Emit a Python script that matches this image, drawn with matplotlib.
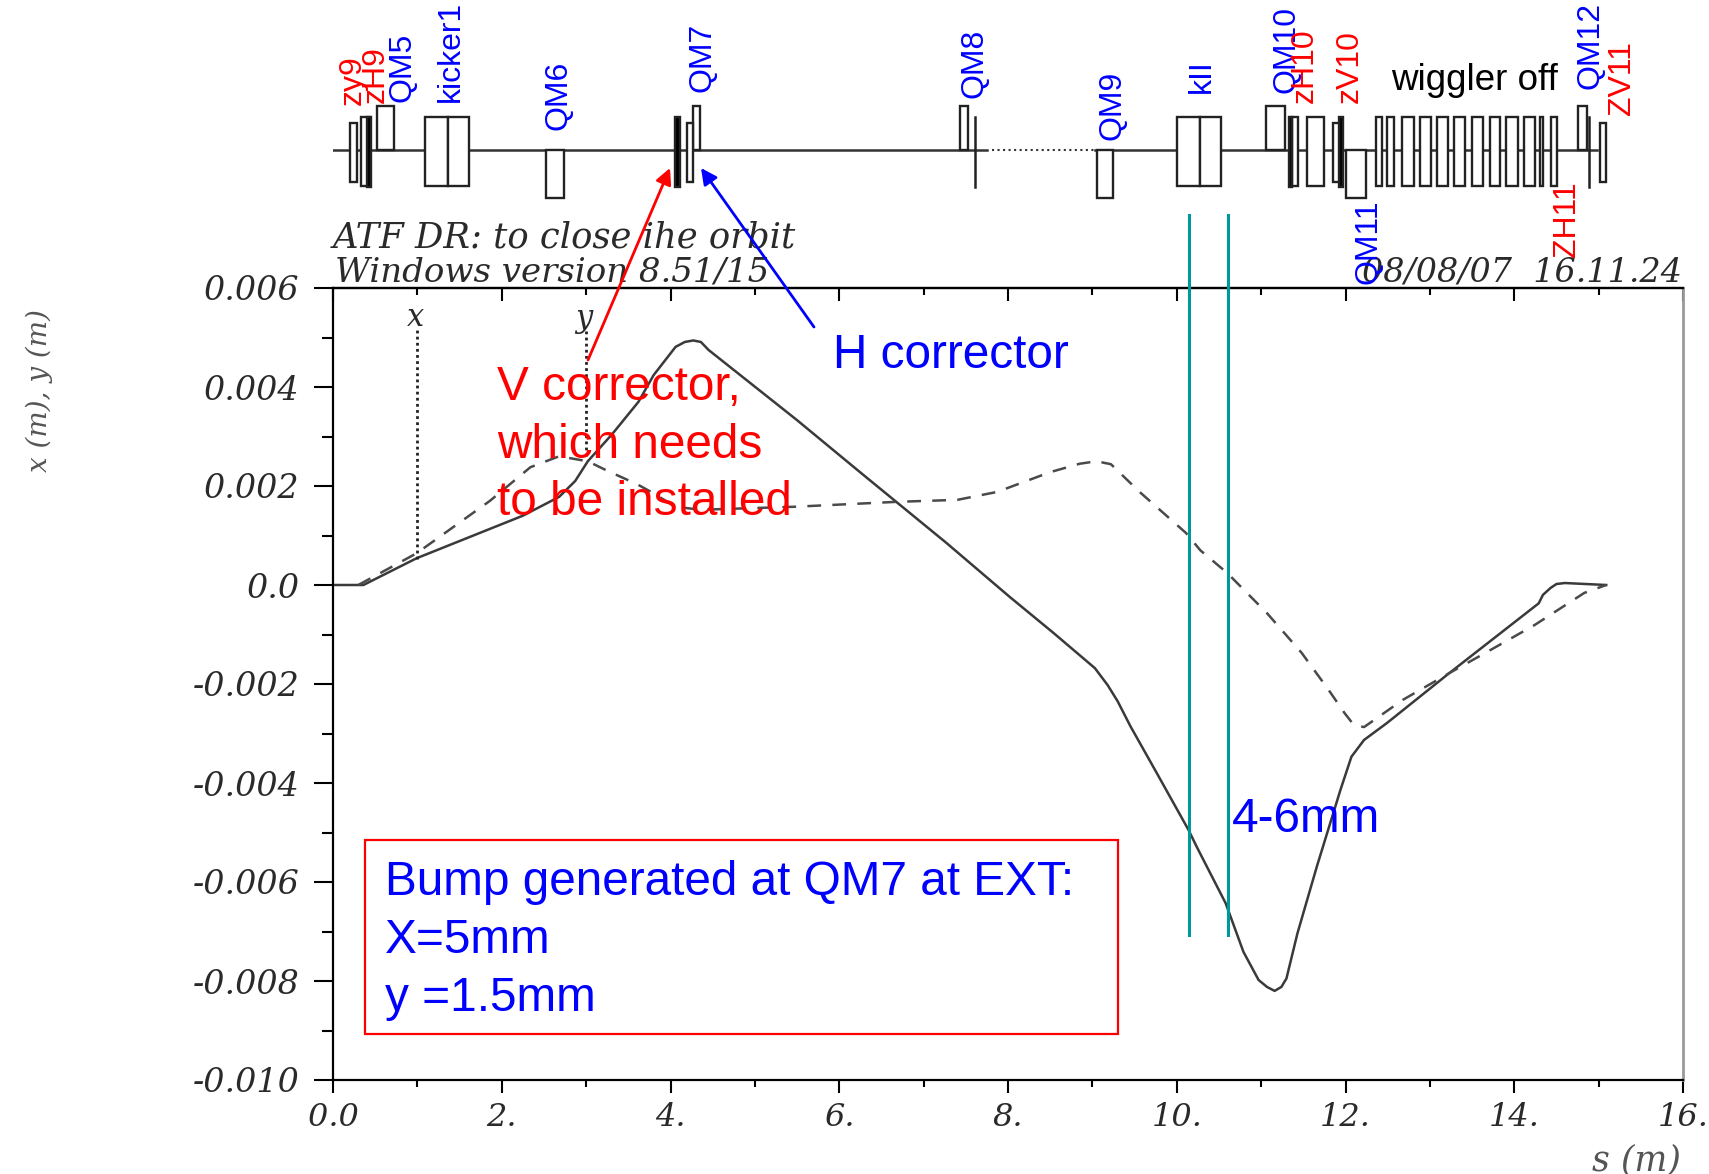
import matplotlib
matplotlib.use('Agg')
import matplotlib.pyplot as plt
from matplotlib.patches import Rectangle

# orbit
s_x = [0.0, 0.36, 0.99, 2.25, 2.68, 2.87, 3.02, 3.31, 3.62, 3.80, 4.06, 4.17, 4.27, 4.36, 4.45, 5.50, 6.26, 7.27, 8.02,
       8.54, 9.03, 9.18, 9.30, 9.45, 9.78, 10.14, 10.24, 10.58, 10.79, 10.97, 11.07, 11.16, 11.24, 11.30, 11.43, 11.66,
       11.94, 12.07, 12.22, 12.49, 13.23, 14.29, 14.34, 14.43, 14.50, 14.60, 15.09]
x_orbit = [0.0, 0.0, 0.00054, 0.0014, 0.00178, 0.0021, 0.0025, 0.00305, 0.0037, 0.00424, 0.00481, 0.00491, 0.00494,
           0.00491, 0.00475, 0.00333, 0.00226, 0.00085, -0.00024, -0.00097, -0.00168, -0.00202, -0.00235, -0.00285,
           -0.00385, -0.00495, -0.0053, -0.00643, -0.00741, -0.00798, -0.00812, -0.0082, -0.00812, -0.00795, -0.00704,
           -0.00569, -0.00414, -0.00347, -0.00313, -0.00279, -0.00178, -0.00037, -0.0002, -0.00006, 0.00002, 0.00004,
           0.0]

s_y = [0.30, 0.99, 1.86, 2.34, 2.68, 3.02, 3.26, 3.60, 3.77, 4.06, 4.36, 5.46, 6.68, 7.40, 7.87, 8.50, 8.85, 9.05, 9.22,
       9.56, 10.11, 10.28, 10.60, 11.07, 11.48, 11.80, 11.99, 12.10, 12.22, 12.68, 13.23, 13.68, 14.24, 14.83, 15.09]
y_orbit = [0.0, 0.00064, 0.0017, 0.00238, 0.0026, 0.0025, 0.0023, 0.00204, 0.00188, 0.00158, 0.00152, 0.00158,
           0.00168, 0.00172, 0.00188, 0.00228, 0.00245, 0.0025, 0.00244, 0.00188, 0.00105, 0.0007, 0.00024, -0.00057,
           -0.00137, -0.00212, -0.00259, -0.00283, -0.00287, -0.00232, -0.00178, -0.00135, -0.00081, -0.00016, 0.0]

y_ticks = [0.006, 0.004, 0.002, 0.0, -0.002, -0.004, -0.006, -0.008, -0.010]
y_tick_labels = ['0.006', '0.004', '0.002', '0.0', '-0.002', '-0.004', '-0.006', '-0.008', '-0.010']
x_ticks = [0, 2, 4, 6, 8, 10, 12, 14, 16]
x_tick_labels = ['0.0', '2.', '4.', '6.', '8.', '10.', '12.', '14.', '16.']
x_minor = [1, 3, 5, 7, 9, 11, 13, 15]
y_minor = [0.005, 0.003, 0.001, -0.001, -0.003, -0.005, -0.007, -0.009]

# lattice elements as (start s, end s)
quad_up = [(0.52, 0.72), (4.27, 4.35), (7.43, 7.52), (11.06, 11.28), (14.75, 14.86)]
quad_down = [(2.52, 2.74), (9.05, 9.25), (12.01, 12.24)]
kickers = [(1.09, 1.36), (1.36, 1.61), (10.00, 10.27), (10.27, 10.53)]
bends = [(0.33, 0.44), (11.37, 11.44), (11.54, 11.75), (12.36, 12.43), (12.49, 12.58), (12.67, 12.81), (12.88, 13.01),
         (13.08, 13.21), (13.29, 13.42), (13.50, 13.63), (13.71, 13.83), (13.90, 14.04), (14.11, 14.24),
         (14.31, 14.34), (14.44, 14.51)]
small = [(0.20, 0.28), (4.19, 4.27), (11.85, 11.94), (15.02, 15.09)]
thick = [(0.40, 0.45), (4.05, 4.11), (11.33, 11.37), (11.92, 11.97)]
thin = [7.61, 14.88]

fig = plt.figure(figsize=(17.09, 11.74), dpi=100)
W, H = 1709, 1174


def axes_px(left, top, right, bottom):
    return [left / W, 1 - bottom / H, (right - left) / W, (bottom - top) / H]


serif = {'family': 'DejaVu Serif', 'style': 'italic', 'color': '#2a2a2a'}

# main plot
ax = fig.add_axes(axes_px(333, 288, 1683, 1080))
ax.plot(s_x, x_orbit, color='#3a3a3a', lw=1.8)
ax.plot(s_y, y_orbit, color='#4a4a4a', lw=1.8, dashes=(5.5, 4.5))
ax.plot([1, 1], [0.00052, 0.0052], color='#222222', lw=2, dashes=(1, 1.2))
ax.plot([3, 3], [0.0026, 0.0052], color='#222222', lw=2, dashes=(1, 1.2))
ax.set_xlim(0, 16)
ax.set_ylim(-0.010, 0.006)
ax.set_xticks(x_ticks)
ax.set_xticklabels(x_tick_labels, fontsize=23, **serif)
ax.set_yticks(y_ticks)
ax.set_yticklabels(y_tick_labels, fontsize=24, **serif)
ax.set_xticks(x_minor, minor=True)
ax.set_yticks(y_minor, minor=True)
ax.tick_params(axis='x', which='major', direction='out', length=9.5, width=1.5, pad=6)
ax.tick_params(axis='x', which='minor', direction='out', length=5, width=1.5)
ax.tick_params(axis='y', which='major', direction='out', length=14, width=1.5, pad=10)
ax.tick_params(axis='y', which='minor', direction='out', length=8, width=1.5)
for side in ['left', 'top', 'bottom']:
    ax.spines[side].set_linewidth(1.6)
ax.spines['right'].set_linewidth(2)
ax.spines['right'].set_color('#999999')

# top edge has inward ticks only
sec = ax.secondary_xaxis('top')
sec.set_xticks(x_ticks)
sec.set_xticklabels([])
sec.set_xticks(x_minor, minor=True)
sec.tick_params(axis='x', which='major', direction='in', length=9.5, width=1.5)
sec.tick_params(axis='x', which='minor', direction='in', length=5, width=1.5)
sec.spines['top'].set_linewidth(1.6)

# lattice strip, same s scale as the plot
lat = fig.add_axes(axes_px(333, 100, 1683, 205))
lat.set_xlim(0, 16)
lat.set_ylim(-55, 50)
lat.axis('off')
lat.plot([0, 7.75], [0, 0], color='#333333', lw=1.8)
lat.plot([7.81, 9.03], [0, 0], color='#333333', lw=1.5, ls=':')
lat.plot([9.03, 14.98], [0, 0], color='#333333', lw=1.8)


def boxes(items, low, high, fill='white'):
    for a, b in items:
        lat.add_patch(Rectangle((a, low), b - a, high - low, fc=fill, ec='#222222', lw=1.7, zorder=3))


boxes(quad_up, 0, 44)
boxes(quad_down, -48, 0)
boxes(kickers, -36, 33)
boxes(bends, -36, 33)
boxes(small, -32, 27)
boxes(thick, -37, 33, fill='black')
for t in thin:
    lat.plot([t, t], [-37, 33], color='#222222', lw=1.8, zorder=3)

# annotations sit on a full figure layer in pixel positions
top = fig.add_axes([0, 0, 1, 1])
top.set_xlim(0, W)
top.set_ylim(H, 0)
top.axis('off')
top.patch.set_alpha(0)

top.text(333, 247, 'ATF DR: to close ihe orbit', fontsize=25.5, va='baseline', **serif)
top.text(335, 281, 'Windows version 8.51/15', fontsize=24.5, va='baseline', **serif)
top.text(1362, 281, '08/08/07  16.11.24', fontsize=24, va='baseline', **serif)
top.text(416, 318, 'x', fontsize=22, ha='center', va='center', **serif)
top.text(584, 318, 'y', fontsize=22, ha='center', va='center', **serif)
top.text(39, 390, 'x (m), y (m)', fontsize=20, rotation=90, ha='center', va='center', family='DejaVu Serif',
         style='italic', color='#555555')
top.text(1681, 1160, 's (m)', fontsize=25, ha='right', va='center', family='DejaVu Serif', style='italic',
         color='#555555')

sans = 'Liberation Sans'
blue_labels = [('QM5', 403, 102), ('kicker1', 451, 102), ('QM6', 559, 130), ('QM7', 703, 92), ('QM8', 975, 98),
               ('QM9', 1112, 140), ('kII', 1202, 93), ('QM10', 1286, 93), ('QM12', 1590, 89), ('QM11', 1369, 284)]
red_labels = [('zy9', 353, 105), ('zH9', 376, 103), ('zH10', 1305, 103), ('zV10', 1350, 103), ('ZV11', 1622, 115),
              ('ZH11', 1567, 257)]
for name, px, py in blue_labels:
    top.text(px, py, name, color='#0000ff', family=sans, fontsize=23, rotation=90, ha='center', va='bottom')
for name, px, py in red_labels:
    top.text(px, py, name, color='#ff0000', family=sans, fontsize=23, rotation=90, ha='center', va='bottom')
top.text(1391, 90, 'wiggler off', color='black', family=sans, fontsize=26.5, va='baseline')

for line, py in zip(['V corrector,', 'which needs', 'to be installed'], [400, 458, 515]):
    top.text(497, py, line, color='#ff0000', family=sans, fontsize=34.4, va='baseline')
top.text(833, 368, 'H corrector', color='#0000ff', family=sans, fontsize=34.4, va='baseline')
top.text(1232, 832, '4-6mm', color='#0000ff', family=sans, fontsize=34.4, va='baseline')

top.annotate('', xy=(670, 168), xytext=(588, 360),
             arrowprops=dict(arrowstyle='-|>', color='#ff0000', lw=2, mutation_scale=24, shrinkA=0, shrinkB=0))
top.annotate('', xy=(701, 168), xytext=(814, 327),
             arrowprops=dict(arrowstyle='-|>', color='#0000ff', lw=2, mutation_scale=24, shrinkA=0, shrinkB=0))

for px in [1188.5, 1228]:
    top.plot([px, px], [215, 935], color='#009999', lw=2.2)

top.add_patch(Rectangle((365, 840), 1118 - 365, 1034 - 840, fc='white', ec='#ff0000', lw=1.6, zorder=1.5))
for line, py in zip(['Bump generated at QM7 at EXT:', 'X=5mm', 'y =1.5mm'], [895, 953, 1011]):
    top.text(385, py, line, color='#0000ff', family=sans, fontsize=34.4, va='baseline', zorder=3)

plt.savefig('out.png', dpi=100)
plt.close()
